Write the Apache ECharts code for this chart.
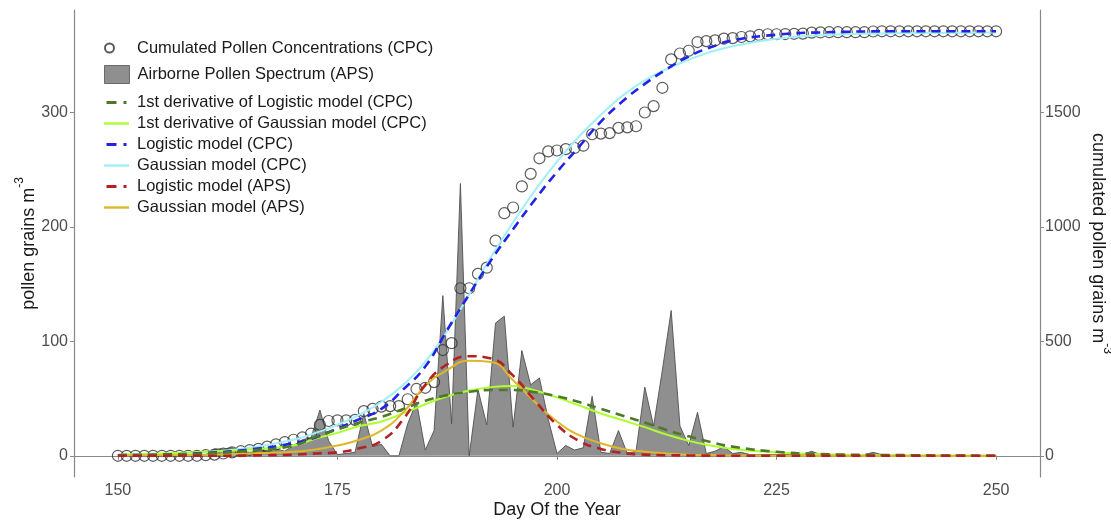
<!DOCTYPE html>
<html>
<head>
<meta charset="utf-8">
<script src="https://cdn.jsdelivr.net/npm/echarts@6/dist/echarts.min.js"></script>
<style>
  html, body { margin: 0; padding: 0; background: #fff; }
  #chart { width: 1111px; height: 520px; }
</style>
</head>
<body>
<div id="chart"></div>
<script>
// daily values, day 150 .. 250
const firstDay = 150
const aps = [
  0, 0, 0, 0, 0, 0, 0, 0, 0, 0,
  1, 6, 6, 7, 4, 3, 4, 5, 6, 4,
  9, 14, 16, 40, 13, 1, 2, 3, 37, 8,
  10, 0, 0, 28, 47, 5, 22, 140, 28, 238,
  0, 58, 27, 116, 122, 25, 92, 62, 68, 32,
  2, 9, 5, 7, 52, 3, 2, 22, 2, 4,
  60, 26, 75, 127, 26, 9, 38, 2, 4, 8,
  2, 3, 1, 1, 1, 1, 1, 1, 1, 4,
  1, 0, 0, 1, 0, 1, 3, 1, 0, 0,
  0, 0, 0, 0, 0, 0, 0, 0, 0, 0, 0
]
const cpc = [
  0, 0, 0, 0, 0, 0, 0, 0, 0, 0,
  2.5, 5, 10, 15, 20, 25, 30, 40, 50, 60,
  70, 80, 97, 135, 152, 155, 155, 157, 195, 205,
  215, 217, 217, 247, 292, 297, 322, 462, 492, 732,
  732, 795, 822, 940, 1060, 1085, 1177, 1232, 1300, 1330,
  1334, 1340, 1345, 1355, 1405, 1408, 1410, 1433, 1435, 1440,
  1500, 1528, 1608, 1732, 1758, 1770, 1808, 1812, 1815, 1823,
  1825, 1830, 1833, 1839, 1842, 1842, 1843, 1844, 1845, 1849,
  1850, 1851, 1851, 1851, 1851, 1851, 1854, 1855, 1855, 1855,
  1855, 1855, 1855, 1855, 1855, 1855, 1855, 1855, 1855, 1855, 1855
]

// fitted curves, read at these days
const modelDays = [150, 155, 160, 165, 170, 172.5, 175, 177.5, 180, 182.5, 185, 187.5, 190, 192.5, 195,
  197.5, 200, 202.5, 205, 207.5, 210, 212.5, 215, 217.5, 220, 225, 230, 240, 250]
const logisticCPC = [2.5, 5, 12.5, 27.5, 55, 80, 120, 160, 205, 290, 390, 550, 705, 855, 990,
  1120, 1240, 1350, 1460, 1550, 1625, 1690, 1745, 1785, 1815, 1840, 1850, 1855, 1855]
const gaussianCPC = [5, 7.5, 15, 35, 70, 100, 135, 180, 235, 310, 410, 545, 705, 870, 1020,
  1160, 1285, 1395, 1490, 1575, 1640, 1690, 1730, 1765, 1790, 1822, 1838, 1847, 1850]
const derivLogistic = [0.5, 1, 2, 4.5, 9, 16.5, 23, 29, 34, 41, 48, 53, 56, 57.5, 57.5,
  55.5, 52, 47, 41, 35, 29, 22.5, 17, 12, 8, 3.5, 1.5, 0.5, 0]
const derivGaussian = [1, 2, 3.5, 5.5, 9, 15, 20, 26, 30, 37, 45, 52, 57, 60, 61,
  57, 51, 44, 37, 31, 25, 18.5, 13, 9, 6, 3, 1.3, 0.3, 0]
const logisticAPS = [0, 0, 0, 0.3, 1, 2, 3, 6.5, 13, 32, 62, 80, 87, 85, 70,
  48, 27, 13, 6, 2.5, 1, 0.5, 0.3, 0.1, 0, 0, 0, 0, 0]
const gaussianAPS = [0.5, 0.7, 1, 2, 3.5, 5.5, 9, 14, 22, 38, 61, 75, 83, 82, 66,
  47, 30, 18, 11, 6, 3.5, 2, 1, 0.6, 0.3, 0.1, 0, 0, 0]

const xTicks = [150, 175, 200, 225, 250]
const leftTicks = [0, 100, 200, 300]
const rightTicks = [0, 500, 1000, 1500]

const daily = arr => arr.map((v, i) => [firstDay + i, v])
const model = arr => arr.map((v, i) => [modelDays[i], v])

const names = {
  cpc: 'Cumulated Pollen Concentrations (CPC)',
  aps: 'Airborne Pollen Spectrum (APS)',
  dLog: '1st derivative of Logistic model (CPC)',
  dGau: '1st derivative of Gaussian model (CPC)',
  logC: 'Logistic model (CPC)',
  gauC: 'Gaussian model (CPC)',
  logA: 'Logistic model (APS)',
  gauA: 'Gaussian model (APS)'
}

const font = 'Liberation Sans, Arial, Helvetica, sans-serif'
const axisGray = '#888'
const dashIcon = 'path://M0,0h10v3h-10z M17,0h3v3h-3z'
const solidIcon = 'path://M0,0h25v2.4h-25z'

function curve(name, data, color, dashed, yAxisIndex) {
  return {
    name: name,
    type: 'line',
    yAxisIndex: yAxisIndex,
    data: model(data),
    color: color,
    showSymbol: false,
    symbol: 'none',
    smooth: 0.5,
    lineStyle: dashed ? { width: 2.6, type: [9, 6], color: color } : { width: 2, color: color },
    z: dashed ? 4 : 3
  }
}

const legendText = pad => ({ fontFamily: font, fontSize: 16.5, color: '#1a1a1a', padding: [0, 0, 0, pad] })
const plain = v => String(v)
const supRich = {
  n: { fontSize: 18, color: '#1a1a1a', lineHeight: 24, verticalAlign: 'bottom' },
  s: { fontSize: 12, color: '#1a1a1a', lineHeight: 14, verticalAlign: 'top' }
}

let chart = echarts.init(document.getElementById('chart'))
chart.setOption({
  animation: false,
  backgroundColor: '#fff',
  textStyle: { fontFamily: font },
  grid: { left: 74, right: 71, top: 10, bottom: 43, containLabel: false, outerBoundsMode: 'none' },
  legend: [
    {
      left: 99, top: 34, itemWidth: 25, itemHeight: 9,
      textStyle: Object.assign({ lineHeight: 18 }, legendText(10)),
      data: [{ name: names.cpc, icon: 'circle' }]
    },
    {
      left: 99, top: 60, itemWidth: 25, itemHeight: 18,
      textStyle: Object.assign({ lineHeight: 18 }, legendText(3)),
      data: [{ name: names.aps, icon: 'rect', itemStyle: { color: '#8f8f8f', borderColor: '#6a6a6a', borderWidth: 1 } }]
    },
    {
      left: 99, top: 87, orient: 'vertical', itemGap: 0, itemWidth: 25, itemHeight: 3,
      textStyle: Object.assign({ lineHeight: 21 }, legendText(3)),
      data: [
        { name: names.dLog, icon: dashIcon },
        { name: names.dGau, icon: solidIcon },
        { name: names.logC, icon: dashIcon },
        { name: names.gauC, icon: solidIcon },
        { name: names.logA, icon: dashIcon },
        { name: names.gauA, icon: solidIcon }
      ]
    }
  ],
  xAxis: {
    type: 'value',
    min: 145,
    max: 255,
    name: 'Day Of the Year',
    nameLocation: 'middle',
    nameGap: 24,
    nameMoveOverlap: false,
    nameTextStyle: { fontSize: 18, color: '#1a1a1a' },
    splitLine: { show: false },
    axisLine: { lineStyle: { color: axisGray, width: 1.2 } },
    axisTick: { length: 4, lineStyle: { color: axisGray }, customValues: xTicks },
    axisLabel: { fontSize: 16, color: '#4d4d4d', margin: 6, customValues: xTicks, formatter: plain }
  },
  yAxis: [
    {
      type: 'value',
      min: -18.55,
      max: 389.6,
      name: '{n|pollen grains m}{s|-3}',
      nameLocation: 'middle',
      nameRotate: 90,
      nameGap: 36,
      nameMoveOverlap: false,
      nameTextStyle: { rich: supRich },
      splitLine: { show: false },
      axisLine: { show: true, lineStyle: { color: axisGray, width: 1.2 } },
      axisTick: { show: true, length: 4, lineStyle: { color: axisGray }, customValues: leftTicks },
      axisLabel: { fontSize: 16, color: '#4d4d4d', margin: 6, customValues: leftTicks, formatter: plain }
    },
    {
      type: 'value',
      position: 'right',
      min: -92.75,
      max: 1948,
      name: '{n|cumulated pollen grains m}{s|-3}',
      nameLocation: 'middle',
      nameRotate: -90,
      nameGap: 49,
      nameMoveOverlap: false,
      nameTextStyle: { rich: supRich },
      splitLine: { show: false },
      axisLine: { show: true, lineStyle: { color: axisGray, width: 1.2 } },
      axisTick: { show: true, length: 4, lineStyle: { color: axisGray }, customValues: rightTicks },
      axisLabel: { fontSize: 16, color: '#4d4d4d', margin: 5, customValues: rightTicks, formatter: plain }
    }
  ],
  series: [
    {
      name: names.aps,
      type: 'line',
      data: daily(aps),
      color: '#8f8f8f',
      symbol: 'none',
      showSymbol: false,
      lineStyle: { color: '#505050', width: 0.9 },
      areaStyle: { color: '#8f8f8f', opacity: 1 },
      z: 1
    },
    {
      name: names.cpc,
      type: 'scatter',
      yAxisIndex: 1,
      data: daily(cpc),
      symbol: 'circle',
      symbolSize: 11,
      itemStyle: { color: 'rgba(255,255,255,0)', borderColor: '#333', borderWidth: 1.2 },
      z: 2
    },
    curve(names.gauC, gaussianCPC, '#9ff0f7', false, 1),
    curve(names.dGau, derivGaussian, '#adff2f', false, 0),
    curve(names.gauA, gaussianAPS, '#dcb82a', false, 0),
    curve(names.logC, logisticCPC, '#2222e6', true, 1),
    curve(names.dLog, derivLogistic, '#4e7a28', true, 0),
    curve(names.logA, logisticAPS, '#b22222', true, 0)
  ]
})

window.addEventListener('resize', () => {
  chart.resize()
})
</script>
</body>
</html>
